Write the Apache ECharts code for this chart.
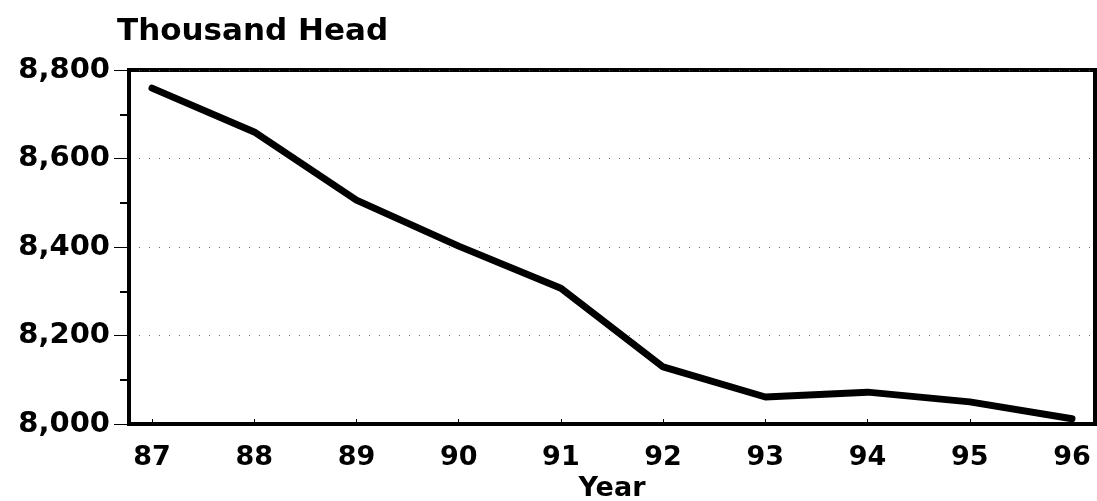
<!DOCTYPE html>
<html>
<head>
<meta charset="utf-8">
<style>
  html, body { margin: 0; padding: 0; background: #fff; }
  #chart { width: 1097px; height: 501px; }
</style>
<script src="https://cdn.jsdelivr.net/npm/echarts@6/dist/echarts.min.js"></script>
</head>
<body>
<div id="chart"></div>
<script>
// 数据
const years = [87, 88, 89, 90, 91, 92, 93, 94, 95, 96]
const headCount = [8759, 8660, 8506, 8402, 8307, 8129, 8061, 8072, 8050, 8012]
const yTicks = [8000, 8200, 8400, 8600, 8800]

const font = 'DejaVu Sans'
const seriesData = years.map((y, i) => [y, headCount[i]])

const myChart = echarts.init(document.getElementById('chart'))
const option = {
    animation: false,
    backgroundColor: '#fff',
    graphic: [
        {
            type: 'text',
            left: 117,
            top: 16,
            style: { text: 'Thousand Head', font: 'bold 31px "DejaVu Sans"', fill: '#000' }
        }
    ],
    grid: {
        left: 129, right: 2, top: 70, bottom: 77,
        outerBoundsMode: 'none',
        containLabel: false,
        show: true, borderColor: '#000', borderWidth: 4
    },
    xAxis: {
        type: 'value',
        min: 86.775,
        max: 96.225,
        name: 'Year',
        nameLocation: 'middle',
        nameGap: 51,
        nameTextStyle: { fontFamily: font, fontWeight: 'bold', fontSize: 27, color: '#000' },
        axisLine: { lineStyle: { color: '#000', width: 4 } },
        axisTick: { inside: true, length: 5, lineStyle: { color: '#000', width: 1 }, customValues: years },
        axisLabel: {
            customValues: years,
            fontFamily: font, fontWeight: 'bold', fontSize: 27, color: '#000', margin: 20
        },
        splitLine: { show: false }
    },
    yAxis: {
        type: 'value',
        min: yTicks[0],
        max: yTicks[yTicks.length - 1],
        interval: 200,
        axisLine: { show: true, lineStyle: { color: '#000', width: 4 } },
        axisTick: { show: true, length: 15, lineStyle: { color: '#000', width: 1 } },
        minorTick: { show: true, splitNumber: 2, length: 9, lineStyle: { color: '#000', width: 2 } },
        axisLabel: {
            fontFamily: font, fontWeight: 'bold', fontSize: 29, color: '#000', margin: 19,
            formatter: v => v.toLocaleString('en-US')
        },
        splitLine: { show: true, lineStyle: { color: '#666', width: 1, type: [1, 9] } }
    },
    series: [
        {
            type: 'line',
            data: seriesData,
            showSymbol: false,
            lineStyle: { color: '#000', width: 7, cap: 'round', join: 'round' }
        }
    ]
}
myChart.setOption(option)
</script>
</body>
</html>
